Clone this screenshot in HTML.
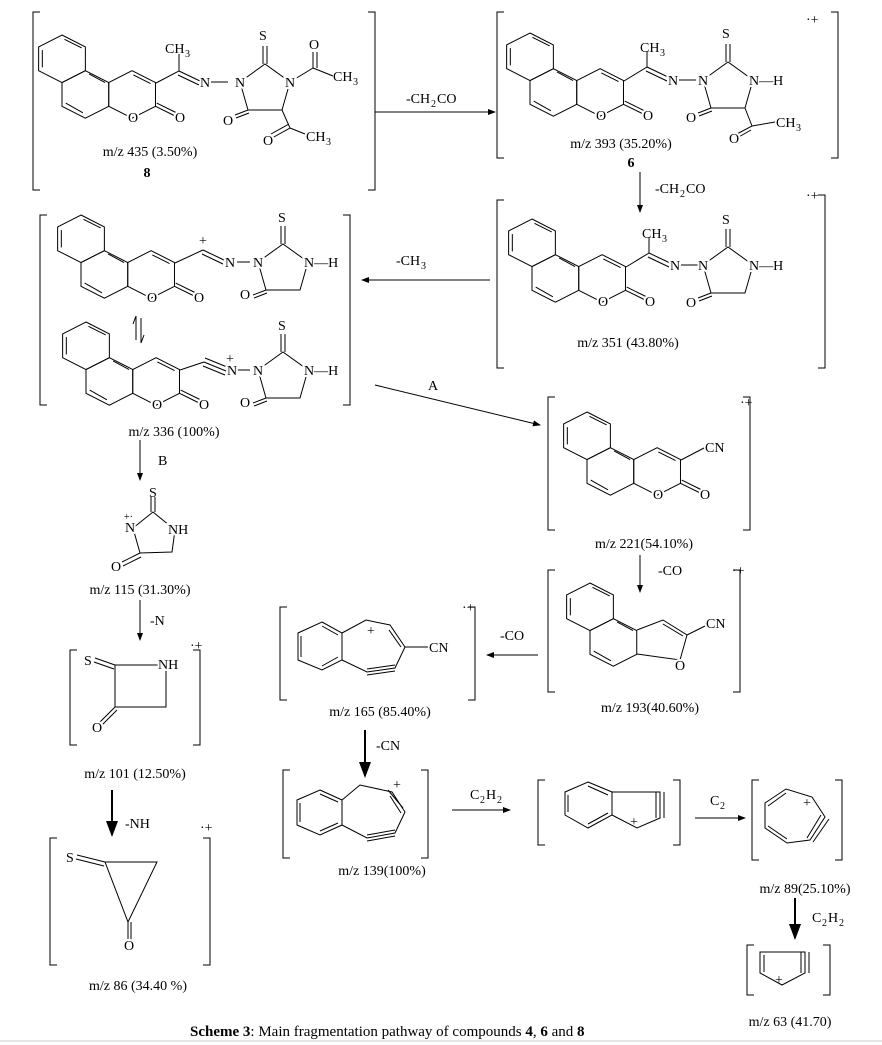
<!DOCTYPE html>
<html><head><meta charset="utf-8"><style>
html,body{margin:0;padding:0;background:#fff}
svg{display:block}
text{font-family:"Liberation Serif",serif;font-size:14px;fill:#000}
.s{font-size:10px}
.m{text-anchor:middle}
.o{text-anchor:middle;stroke:#fff;stroke-width:4px;paint-order:stroke;stroke-linejoin:round}
.l{stroke:#fff;stroke-width:4px;paint-order:stroke}
</style></head><body>
<svg width="882" height="1045" viewBox="0 0 882 1045" xmlns="http://www.w3.org/2000/svg">
<defs>
<marker id="ah" markerWidth="8" markerHeight="8" refX="7" refY="4" orient="auto"><path d="M0,1 L8,4 L0,7 Z" fill="#000"/></marker>
<g id="bc" fill="none" stroke="#000" stroke-width="1">
<path vector-effect="non-scaling-stroke" d="M63 35 L82 46 L82 68 L63 79 L44 68 L44 46Z"/>
<path vector-effect="non-scaling-stroke" d="M82 68 L101 79 L101 101 L82 112 L63 101 L63 79Z"/>
<path vector-effect="non-scaling-stroke" d="M120 68 L139 79 L139 101 L120 112 L101 101 L101 79Z"/>
<path vector-effect="non-scaling-stroke" d="M47 49 L47 65 M65 39 L79 47 M85 71 L98 79 M66 98 L80 107 M121 72 L135 80"/>
<path vector-effect="non-scaling-stroke" d="M139 101 L155 110 M140 98 L156 107"/>
</g>
<g id="nap" fill="none" stroke="#000">
<path vector-effect="non-scaling-stroke" d="M63 35 L82 46 L82 68 L63 79 L44 68 L44 46Z"/>
<path vector-effect="non-scaling-stroke" d="M82 68 L101 79 L101 101 L82 112 L63 101 L63 79Z"/>
<path vector-effect="non-scaling-stroke" d="M47 49 L47 65 M65 39 L79 47 M85 71 L98 79 M66 98 L80 107"/>
</g>
<g id="imid" fill="none" stroke="#000" stroke-width="1">
<path d="M0 0 L25 -18 L50 0 L42 28 L8 28 Z"/>
<path d="M23 -18 L23 -36 M27 -18 L27 -36"/>
<path d="M8 28 L-5 33 M9 31 L-4 36"/>
</g>
</defs>

<g stroke="#000" stroke-width="1" fill="none">
<path d="M40 12 L33 12 L33 190 L40 190 M368 12 L375 12 L375 190 L368 190"/>
<path d="M504 12 L497 12 L497 158 L504 158 M831 12 L838 12 L838 158 L831 158"/>
<path d="M504 200 L497 200 L497 368 L504 368 M818 195 L825 195 L825 368 L818 368"/>
<path d="M47 215 L40 215 L40 405 L47 405 M343 215 L350 215 L350 405 L343 405"/>
<path d="M555 397 L548 397 L548 530 L555 530 M743 397 L750 397 L750 530 L743 530"/>
<path d="M555 570 L548 570 L548 692 L555 692 M733 570 L740 570 L740 692 L733 692"/>
<path d="M287 607 L280 607 L280 700 L287 700 M468 607 L475 607 L475 700 L468 700"/>
<path d="M290 770 L283 770 L283 858 L290 858 M421 770 L428 770 L428 858 L421 858"/>
<path d="M545 780 L538 780 L538 845 L545 845 M673 780 L680 780 L680 845 L673 845"/>
<path d="M759 780 L752 780 L752 860 L759 860 M835 780 L842 780 L842 860 L835 860"/>
<path d="M754 945 L747 945 L747 995 L754 995 M823 945 L830 945 L830 995 L823 995"/>
<path d="M77 650 L70 650 L70 745 L77 745 M193 650 L200 650 L200 745 L193 745"/>
<path d="M57 838 L50 838 L50 965 L57 965 M203 838 L210 838 L210 965 L203 965"/>
<path d="M375 112 L495 112" marker-end="url(#ah)"/>
<path d="M640 172 L640 212" marker-end="url(#ah)"/>
<path d="M490 280 L362 280" marker-end="url(#ah)"/>
<path d="M375 385 L540 425" marker-end="url(#ah)"/>
<path d="M640 555 L640 592" marker-end="url(#ah)"/>
<path d="M538 655 L487 655" marker-end="url(#ah)"/>
<path d="M365 730 L365 776" stroke-width="2" marker-end="url(#ah)"/>
<path d="M452 810 L510 810" marker-end="url(#ah)"/>
<path d="M695 818 L745 818" marker-end="url(#ah)"/>
<path d="M795 898 L795 938" stroke-width="2" marker-end="url(#ah)"/>
<path d="M140 440 L140 480" marker-end="url(#ah)"/>
<path d="M140 600 L140 640" marker-end="url(#ah)"/>
<path d="M112 790 L112 835" stroke-width="2" marker-end="url(#ah)"/>
<path d="M136 316 L136 340 M136 316 L133 324 M141 318 L141 343 M141 343 L144 335"/>
<line x1="0" y1="1041" x2="882" y2="1041" stroke="#ccc"/>
</g>

<!-- molecule 8 -->
<use href="#bc" transform="translate(62,35) scale(1.23,1.08) translate(-63,-35)"/>
<g stroke="#000" fill="none"><path d="M156 83 L179 71 L179 54 M179 71 L200 81 M178 75 L199 85 M211 82 L228 82"/></g>
<text x="165" y="53">CH</text><text x="185" y="57" class="s">3</text>
<use href="#imid" x="240" y="82"/>
<text class="o" x="133" y="122">O</text><text class="o" x="180" y="122">O</text>
<text class="o" x="205" y="87">N</text><text class="o" x="240" y="87">N</text>
<text x="259" y="40">S</text><text class="o" x="228" y="125">O</text>
<g stroke="#000" fill="none"><path d="M290 82 L313 68 L313 52 M317 68 L317 52 M313 68 L333 76 M282 110 L290 128 L272 138 M289 124 L271 134 M290 128 L305 134"/></g>
<text class="o" x="290" y="87">N</text>
<text x="309" y="49">O</text><text x="333" y="81">CH</text><text x="353" y="85" class="s">3</text>
<text class="o" x="268" y="145">O</text><text x="306" y="141">CH</text><text x="326" y="145" class="s">3</text>
<text class="m" x="150" y="156">m/z 435 (3.50%)</text><text class="m" x="147" y="177" font-weight="bold">8</text>

<!-- molecule 6 -->
<use href="#bc" transform="translate(530,33) scale(1.23,1.08) translate(-63,-35)"/>
<g stroke="#000" fill="none"><path d="M624 81 L647 67 L647 52 M647 67 L668 77 M646 71 L667 81 M679 80 L696 80"/></g>
<text x="640" y="52">CH</text><text x="660" y="56" class="s">3</text>
<use href="#imid" x="703" y="80"/>
<text class="o" x="601" y="120">O</text><text class="o" x="648" y="120">O</text>
<text class="o" x="673" y="85">N</text><text class="o" x="703" y="85">N</text>
<text x="722" y="38">S</text><text class="o" x="691" y="122">O</text>
<text class="l" x="749" y="85">N—H</text>
<g stroke="#000" fill="none"><path d="M745 108 L752 126 L735 135 M751 130 L737 138 M752 126 L775 122"/></g>
<text class="o" x="734" y="143">O</text><text x="776" y="127">CH</text><text x="796" y="131" class="s">3</text>
<text class="m" x="621" y="148">m/z 393 (35.20%)</text><text class="m" x="631" y="167" font-weight="bold">6</text>
<text x="806" y="24">·+</text>
<text x="406" y="103">-CH</text><text x="431" y="107" class="s">2</text><text x="437" y="103">CO</text>
<text x="655" y="193">-CH</text><text x="680" y="197" class="s">2</text><text x="686" y="193">CO</text>

<!-- molecule 351 -->
<use href="#bc" transform="translate(532,219) scale(1.23,1.08) translate(-63,-35)"/>
<g stroke="#000" fill="none"><path d="M626 267 L649 253 L649 238 M649 253 L670 263 M648 257 L669 267 M681 265 L698 265"/></g>
<text x="642" y="238">CH</text><text x="662" y="242" class="s">3</text>
<use href="#imid" x="703" y="265"/>
<text class="o" x="603" y="306">O</text><text class="o" x="650" y="306">O</text>
<text class="o" x="675" y="270">N</text><text class="o" x="703" y="270">N</text>
<text x="722" y="224">S</text><text class="o" x="691" y="307">O</text><text class="l" x="749" y="270">N—H</text>
<text class="m" x="628" y="347">m/z 351 (43.80%)</text><text x="806" y="200">·+</text>
<text x="396" y="265">-CH</text><text x="421" y="269" class="s">3</text>

<!-- molecule 336 a -->
<use href="#bc" transform="translate(81,215) scale(1.23,1.08) translate(-63,-35)"/>
<g stroke="#000" fill="none"><path d="M175 263 L203 250 M203 250 L224 260 M202 254 L223 264 M237 262 L250 262"/></g>
<text x="199" y="245">+</text>
<use href="#imid" x="258" y="262"/>
<text class="o" x="152" y="302">O</text><text class="o" x="199" y="302">O</text>
<text class="o" x="230" y="267">N</text><text class="o" x="258" y="267">N</text>
<text x="278" y="222">S</text><text class="o" x="245" y="299">O</text><text class="l" x="304" y="267">N—H</text>

<!-- molecule 336 b -->
<use href="#bc" transform="translate(86,322) scale(1.23,1.08) translate(-63,-35)"/>
<g stroke="#000" fill="none"><path d="M180 370 L204 362 M204 362 L226 371 M205 358 L227 367 M203 366 L225 375 M238 370 L250 370"/></g>
<text x="226" y="363">+</text>
<use href="#imid" x="258" y="370"/>
<text class="o" x="157" y="409">O</text><text class="o" x="204" y="409">O</text>
<text class="o" x="232" y="375">N</text><text class="o" x="258" y="375">N</text>
<text x="278" y="330">S</text><text class="o" x="245" y="407">O</text><text class="l" x="304" y="375">N—H</text>
<text class="m" x="174" y="436">m/z 336 (100%)</text>
<text x="428" y="390">A</text>
<text x="158" y="465">B</text>

<!-- 221 -->
<use href="#bc" transform="translate(587,412) scale(1.23,1.08) translate(-63,-35)"/>
<path d="M681 460 L704 448" stroke="#000" fill="none"/>
<text class="o" x="658" y="499">O</text><text class="o" x="705" y="499">O</text>
<text x="705" y="452">CN</text>
<text x="740" y="407">·+</text>
<text class="m" x="644" y="548">m/z 221(54.10%)</text>
<text x="658" y="575">-CO</text>

<!-- 193 -->
<use href="#nap" transform="translate(590,583) scale(1.23,1.08) translate(-63,-35)"/>
<g fill="none" stroke="#000"><path d="M637 630 L663 620 L687 635 L680 660 L637 654 M663 624 L683 636 M687 635 L705 626"/></g>
<text class="o" x="680" y="670">O</text><text x="706" y="628">CN</text>
<text x="732" y="575">·+</text>
<text class="m" x="650" y="712">m/z 193(40.60%)</text>
<text x="500" y="640">-CO</text>

<!-- 165 -->
<g fill="none" stroke="#000">
<path d="M322 622 L342 633 L342 660 L322 670 L298 660 L298 633Z M301 636 L301 657 M322 626 L338 635 M322 666 L338 657"/>
<path d="M342 633 L366 620 L390 625 L405 647 L395 668 L367 672 L342 660 M389 630 L401 647"/>
<path d="M367 669 L395 665 M367 675 L395 671"/>
<path d="M405 647 L428 647"/>
</g>
<text x="367" y="635">+</text><text x="429" y="652">CN</text>
<text x="462" y="612">·+</text>
<text class="m" x="380" y="716">m/z 165 (85.40%)</text>
<text x="376" y="750">-CN</text>

<!-- 139 -->
<g fill="none" stroke="#000">
<path d="M320 790 L342 800 L342 825 L320 835 L297 825 L297 800Z M300 803 L300 822 M320 794 L338 802 M320 831 L338 823"/>
<path d="M342 800 L360 785 L392 792 L405 812 L395 833 L367 838 L342 825"/>
<path d="M390 796 L401 813 M388 790 L403 808 M367 835 L395 830 M367 841 L395 836"/>
</g>
<text x="393" y="789">+</text>
<text class="m" x="382" y="875">m/z 139(100%)</text>
<text x="470" y="799">C</text><text x="480" y="803" class="s">2</text><text x="486" y="799">H</text><text x="497" y="803" class="s">2</text>

<!-- indenyne -->
<g fill="none" stroke="#000">
<path d="M588 782 L612 792 L612 815 L588 828 L565 815 L565 792Z M568 795 L568 812 M588 786 L608 795 M588 824 L608 813"/>
<path d="M612 792 L660 792 L660 818 L637 828 L612 815 M656 792 L656 818 M664 792 L664 818"/>
</g>
<text x="630" y="826">+</text>
<text x="710" y="805">C</text><text x="720" y="809" class="s">2</text>

<!-- 89 -->
<g fill="none" stroke="#000">
<path d="M765 803 L786 789 L812 797 L825 817 L810 840 L787 843 L765 828 Z M768 806 L786 793 M768 826 L787 839 M821 815 L807 838 M829 819 L813 842"/>
</g>
<text x="803" y="807">+</text>
<text class="m" x="805" y="893">m/z 89(25.10%)</text>
<text x="812" y="922">C</text><text x="822" y="926" class="s">2</text><text x="828" y="922">H</text><text x="839" y="926" class="s">2</text>

<!-- 63 -->
<g fill="none" stroke="#000">
<path d="M760 952 L805 952 L805 973 L782 985 L760 973 Z M764 955 L764 972 M801 952 L801 973 M809 952 L809 973"/>
</g>
<text x="775" y="984">+</text>
<text class="m" x="790" y="1026">m/z 63 (41.70)</text>

<!-- 115 -->
<g fill="none" stroke="#000"><path d="M133 528 L153 512 L175 530 L172 552 L140 553 Z M151 512 L151 497 M155 512 L155 497 M140 553 L122 562 M141 557 L123 566"/></g>
<text x="149" y="497">S</text><text class="o" x="130" y="532">N</text><text x="124" y="520" class="s">+·</text><text class="l" x="168" y="534">NH</text><text class="o" x="116" y="571">O</text>
<text class="m" x="140" y="594">m/z 115 (31.30%)</text>
<text x="150" y="625">-N</text>

<!-- 101 -->
<g fill="none" stroke="#000"><path d="M115 665 L160 665 M166 670 L166 707 L115 707 L115 665 M95 658 L115 665 M94 662 L114 669 M115 707 L100 722 M117 710 L102 725"/></g>
<text x="84" y="665">S</text><text class="l" x="158" y="669">NH</text><text class="o" x="97" y="732">O</text>
<text x="190" y="650">·+</text>
<text class="m" x="135" y="778">m/z 101 (12.50%)</text>
<text x="125" y="828">-NH</text>

<!-- 86 -->
<g fill="none" stroke="#000"><path d="M105 862 L157 862 L128 922 Z M128 922 L128 940 M131 922 L131 940 M77 855 L105 862 M76 859 L104 866"/></g>
<text x="66" y="862">S</text><text class="o" x="129" y="950">O</text>
<text x="200" y="832">·+</text>
<text class="m" x="138" y="990">m/z 86 (34.40 %)</text>

<text x="190" y="1036" style="font-size:15px"><tspan font-weight="bold">Scheme 3</tspan>: Main fragmentation pathway of compounds <tspan font-weight="bold">4</tspan>, <tspan font-weight="bold">6</tspan> and <tspan font-weight="bold">8</tspan></text>
</svg>
</body></html>
